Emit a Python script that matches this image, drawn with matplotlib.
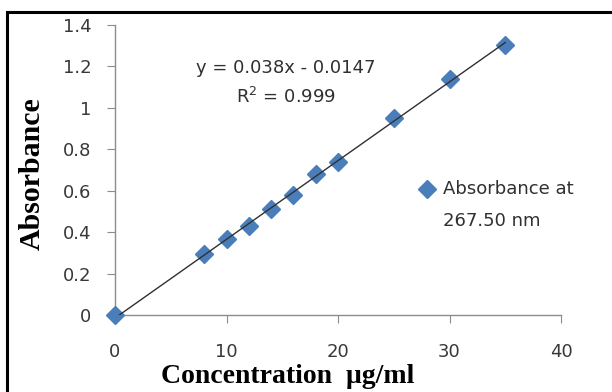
import numpy as np
import matplotlib.pyplot as plt
from matplotlib.patches import Rectangle

# calibration data
conc = [0, 8, 10, 12, 14, 16, 18, 20, 25, 30, 35]
absorb = [0.0, 0.295, 0.365, 0.43, 0.51, 0.58, 0.68, 0.737, 0.95, 1.14, 1.305]
slope = 0.038
intercept = -0.0147
x_ticks = [0, 10, 20, 30, 40]
y_ticks = [0, 0.2, 0.4, 0.6, 0.8, 1.0, 1.2, 1.4]
y_tick_labels = ['0', '0.2', '0.4', '0.6', '0.8', '1', '1.2', '1.4']

plt.rcParams['font.family'] = ['DejaVu Sans']

fig = plt.figure(figsize=(6.12, 3.92), dpi=100)
ax = fig.add_axes([115/612, 1 - 315/392, (561-115)/612, (315-25)/392])

# outer frame (cut off at right and bottom)
fig.patches.append(Rectangle((7/612, -0.1), 1.2, 1 - 12/392 + 0.1,
                             transform=fig.transFigure, fill=False,
                             edgecolor='black', linewidth=2.2, clip_on=False))

xl = np.array([min(conc), max(conc)])
ax.plot(xl, slope * xl + intercept, color='#303030', linewidth=1, zorder=4)
ax.plot(conc, absorb, linestyle='none', marker='D', markersize=9,
        color='#4a7ebb', label='Absorbance at\n267.50 nm', zorder=3, clip_on=False)

ax.set_xlim(0, 40)
ax.set_ylim(0, 1.4)
ax.set_xticks(x_ticks)
ax.set_yticks(y_ticks)
ax.set_yticklabels(y_tick_labels)

for s in ['top', 'right']:
    ax.spines[s].set_visible(False)
for s in ['left', 'bottom']:
    ax.spines[s].set_color('#8c8c8c')
    ax.spines[s].set_linewidth(1)
ax.tick_params(axis='both', colors='#8c8c8c', labelcolor='#383838',
               labelsize=13, direction='out')
ax.tick_params(axis='x', length=6, pad=14)
ax.tick_params(axis='y', length=6, pad=11)

ax.set_xlabel('Concentration  \u03bcg/ml', family='Liberation Serif',
              fontweight='bold', fontsize=20)
ax.xaxis.set_label_coords((288-115)/446, -0.168, transform=ax.transAxes)
ax.xaxis.label.set_va('top')
ax.set_ylabel('Absorbance', family='Liberation Serif',
              fontweight='bold', fontsize=21.5)
ax.yaxis.set_label_coords(-0.156, (315-174)/290, transform=ax.transAxes)

ax.text((286-115)/446, (315-83)/290, 'y = 0.038x - 0.0147\nR$^2$ = 0.999',
        transform=ax.transAxes, ha='center', va='center', fontsize=13,
        color='#303030', linespacing=1.6)

leg = ax.legend(loc='center left', bbox_to_anchor=(0.672, 0.378), frameon=False,
                fontsize=13, handlelength=0.6, handletextpad=0.55,
                borderaxespad=0, labelcolor='#303030')
leg.get_texts()[0].set_linespacing(2.0)
h = leg.legend_handles[0]
h.set_ydata([v + 12 for v in h.get_ydata()])

fig.savefig('out.png', dpi=100)
